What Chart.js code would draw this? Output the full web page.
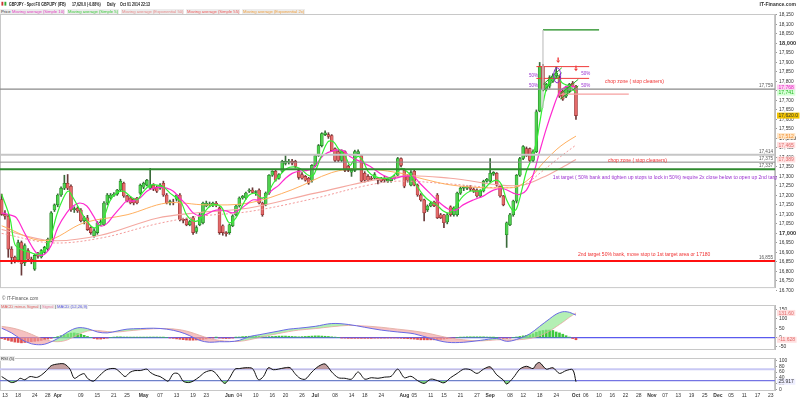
<!DOCTYPE html>
<html><head><meta charset="utf-8">
<script src="https://cdn.jsdelivr.net/npm/chart.js@4.4.1/dist/chart.umd.min.js"></script>
<style>
body{margin:0;background:#fff;width:800px;height:400px;overflow:hidden;position:relative;font-family:Arial,"Liberation Sans",sans-serif;color:#333}
canvas{position:absolute;left:0;z-index:1}
.t{position:absolute;white-space:nowrap;font-size:4.2px;line-height:5px;z-index:3}
.h{font-weight:bold;font-size:4.6px;top:2px;color:#222;transform:scaleX(0.78);transform-origin:0 0}
.lg{background:#ececec;padding:0 1px;top:9px}
</style></head><body>
<div class="t" style="left:1px;top:1px;font-size:5px"><span style="color:#c33">&#9646;</span><span style="color:#3a3">&#9646;</span></div>
<div class="t h" style="left:9px">GBPJPY - Spot FX GBP/JPY (IFB)</div>
<div class="t h" style="left:72px">17,620.0 (-0.88%)</div>
<div class="t h" style="left:107px">Daily</div>
<div class="t h" style="left:120px">Oct 01 2014 22:13</div>
<div class="t" style="right:4px;top:2px;font-size:5px;font-weight:bold">IT-Finance.com</div>
<div class="t lg" style="left:0">Price</div>
<div class="t lg" style="left:11px;color:#e23cc0">Moving average (Simple 10)</div>
<div class="t lg" style="left:67px;color:#3ccc3c">Moving average (Simple 5)</div>
<div class="t lg" style="left:121px;color:#e88a8a">Moving average (Exponential 50)</div>
<div class="t lg" style="left:186px;color:#f05a5a">Moving average (Simple 55)</div>
<div class="t lg" style="left:242px;color:#f0a040">Moving average (Exponential 2x)</div>
<div class="t" style="left:2px;top:296px;color:#555;font-size:4.6px">&copy; IT-Finance.com</div>
<div class="t" style="left:0;top:304px"><span style="background:#ececec;padding:0 1px"><span style="color:#e05a5a">MACD minus Signal</span> | <span style="color:#e87a9a">Signal</span> | <span style="color:#5a5ae0">MACD (12,26,9)</span></span></div>
<div class="t" style="left:0;top:356px"><span style="background:#ececec;padding:0 1px">RSI (5)</span></div>
<canvas id="cMain" width="800" height="292" style="top:0"></canvas>
<canvas id="cMacd" width="800" height="54" style="top:300px"></canvas>
<canvas id="cRsi" width="800" height="47" style="top:353px"></canvas>
<script>
// daily candles, one per trading day (Sun-Fri) from 2014-03-12 to 2014-10-01
const open = [17178,17100,17090,16917,16874,16860,16952,16845,16910,16864,
16812,16884,16876,16900,16917,16962,17123,17150,17202,17238,
17264,17248,17125,17133,17123,17066,17082,17030,16988,17004,
17056,17045,17160,17186,17200,17207,17228,17264,17197,17186,
17180,17186,17212,17243,17254,17238,17254,17243,17238,17264,
17202,17162,17165,17180,17202,17072,17072,17045,17082,17010,
17045,17056,17144,17150,17148,17160,17134,17040,17004,17004,
17040,17098,17144,17186,17186,17222,17228,17215,17228,17160,
17150,17212,17306,17327,17290,17327,17368,17375,17380,17379,
17330,17310,17300,17290,17280,17358,17410,17462,17520,17520,
17515,17446,17431,17384,17431,17353,17322,17332,17420,17410,
17316,17300,17290,17290,17290,17290,17285,17275,17278,17290,
17306,17394,17332,17300,17254,17327,17254,17202,17176,17124,
17144,17165,17202,17098,17098,17060,17140,17098,17098,17212,
17238,17238,17243,17233,17228,17197,17223,17275,17275,17312,
17316,17248,17197,16993,17045,17098,17170,17306,17394,17446,
17446,17384,17430,17644,17878,17760,17775,17800,17830,17820,
17748,17722,17748,17790,17775];
const high = [17207,17120,17100,16930,16880,16965,16960,16945,16920,16875,
16890,16900,16915,16932,16975,17115,17155,17208,17245,17306,
17310,17255,17140,17140,17130,17090,17095,17035,17025,17062,
17075,17168,17210,17210,17215,17232,17285,17270,17200,17192,
17185,17190,17260,17270,17285,17342,17262,17250,17262,17275,
17210,17175,17180,17205,17210,17080,17080,17068,17090,17040,
17105,17165,17170,17165,17165,17168,17140,17045,17010,17050,
17098,17150,17192,17200,17218,17235,17240,17225,17235,17165,
17218,17310,17330,17335,17315,17385,17410,17390,17390,17385,
17340,17320,17305,17295,17362,17415,17468,17530,17540,17530,
17520,17450,17440,17440,17435,17360,17340,17438,17440,17415,
17325,17310,17300,17320,17295,17295,17300,17290,17295,17305,
17400,17398,17340,17310,17330,17335,17260,17210,17180,17150,
17165,17170,17210,17105,17100,17105,17145,17140,17218,17245,
17250,17250,17252,17240,17235,17230,17280,17290,17394,17325,
17320,17252,17200,17060,17105,17175,17310,17400,17462,17455,
17450,17440,17650,17900,17890,17790,17830,17840,17875,17830,
17755,17775,17790,17800,17780];
const low = [17095,17075,16874,16840,16845,16850,16780,16830,16855,16840,
16805,16870,16870,16895,16910,16955,17115,17140,17195,17230,
17230,17115,17110,17110,17060,17050,17015,16995,16980,16995,
17040,17040,17150,17180,17195,17200,17220,17190,17165,17155,
17150,17155,17205,17235,17250,17230,17225,17215,17232,17195,
17155,17150,17150,17170,17065,17055,17040,17040,16995,17000,
17040,17050,17140,17140,17140,17140,16995,16990,16985,16995,
17035,17092,17138,17180,17180,17215,17210,17200,17155,17090,
17145,17205,17300,17275,17285,17320,17360,17365,17360,17345,
17285,17285,17275,17258,17270,17350,17405,17455,17515,17500,
17430,17378,17378,17378,17325,17325,17300,17325,17415,17270,
17270,17275,17280,17285,17260,17270,17270,17268,17270,17285,
17300,17350,17240,17270,17250,17250,17195,17170,17066,17115,
17140,17140,17078,17078,17030,17050,17090,17090,17090,17205,
17225,17230,17225,17215,17190,17190,17218,17270,17270,17305,
17248,17190,17145,16926,17040,17090,17160,17300,17388,17405,
17378,17378,17425,17640,17750,17750,17765,17795,17815,17715,
17700,17715,17740,17770,17600];
const close = [17100,17090,16917,16874,16860,16952,16840,16936,16864,16850,
16884,16880,16910,16926,16968,17108,17150,17202,17238,17264,
17238,17123,17130,17118,17066,17082,17020,17004,17014,17056,
17060,17160,17202,17202,17207,17228,17275,17197,17170,17160,
17160,17160,17254,17264,17280,17254,17233,17222,17254,17202,
17160,17165,17160,17202,17072,17068,17045,17062,17004,17030,
17098,17160,17160,17155,17160,17148,17004,17004,16998,17045,
17092,17144,17186,17195,17212,17228,17215,17220,17160,17098,
17212,17306,17327,17280,17310,17379,17379,17380,17370,17353,
17295,17290,17280,17264,17358,17410,17462,17525,17530,17510,
17436,17384,17384,17431,17332,17332,17332,17431,17431,17275,
17280,17280,17285,17310,17280,17275,17280,17285,17290,17300,
17394,17358,17248,17280,17320,17254,17202,17176,17108,17144,
17160,17145,17082,17082,17056,17098,17098,17134,17212,17238,
17240,17243,17233,17222,17197,17223,17275,17285,17316,17321,
17254,17197,17150,17056,17098,17170,17306,17394,17457,17410,
17384,17431,17640,17878,17760,17785,17820,17830,17845,17722,
17707,17770,17785,17775,17620];

// moving averages: [day index, value]
const sma5 = [[0,17206],[2.5,17082],[4,16942],[6,16915],[8.6,16900],[11,16890],[13,16915],[14.6,16962],[16.7,17098],[18.7,17186],[20.2,17222],[21.7,17186],[23.7,17124],[25.8,17066],[27.8,17030],[29.8,17045],[31.3,17098],[32.8,17170],[34.8,17212],[36.9,17222],[38.9,17196],[40.9,17176],[42.9,17220],[45,17254],[47,17254],[49,17245],[51,17212],[53,17186],[54.5,17160],[56,17098],[58,17066],[60,17072],[62,17124],[64,17150],[66.5,17140],[68,17082],[69,17056],[71,17082],[73,17150],[75,17202],[77,17210],[78.8,17186],[80.3,17200],[82.3,17264],[84.3,17306],[86.4,17342],[88.4,17350],[90.4,17342],[92.9,17306],[94.4,17306],[95.4,17342],[96.9,17410],[98.9,17483],[100.5,17483],[102,17446],[104,17410],[105.5,17358],[106.5,17380],[108,17405],[109.5,17380],[111,17327],[113,17300],[115.6,17290],[118,17295],[119.6,17320],[121.2,17342],[122.7,17327],[124.2,17300],[125.7,17254],[127.7,17202],[129.7,17170],[131.8,17150],[133.8,17118],[135.8,17108],[137.8,17150],[139.8,17196],[141.9,17222],[143.9,17222],[145.9,17230],[147.9,17264],[150,17280],[151.5,17254],[153,17176],[155,17118],[156,17130],[157.5,17222],[159,17327],[160.6,17394],[162,17480],[163,17580],[164,17680],[165,17760],[166,17800],[167,17815],[168,17820],[169,17810],[170,17790],[172,17775],[174,17741]];
const sma10 = [[0,17108],[3,17095],[4.5,17082],[6.6,17014],[9,16936],[11,16890],[13,16890],[15,16936],[17,17030],[19.7,17108],[21.7,17144],[23.7,17160],[25.8,17144],[27.8,17092],[29.8,17040],[31.8,17050],[33.8,17092],[35.9,17134],[37.9,17170],[39.9,17170],[41.9,17186],[44,17222],[46,17238],[48,17242],[50,17238],[52,17222],[54,17186],[56,17150],[58,17108],[60,17092],[62,17100],[64,17118],[66,17124],[68,17118],[70,17108],[72,17124],[74,17150],[76,17176],[78,17176],[80,17196],[82,17228],[84,17254],[86,17290],[88,17316],[90,17327],[92,17330],[94.4,17342],[97.4,17410],[100.5,17436],[103.5,17436],[105.5,17405],[108.5,17379],[111.6,17353],[115.6,17306],[118.6,17290],[121.7,17300],[124.7,17300],[126.7,17264],[129.7,17212],[132.8,17160],[135.8,17124],[137.8,17124],[139.8,17150],[142.9,17176],[145.9,17196],[149,17228],[152,17235],[155,17212],[157,17205],[159,17228],[161,17306],[163,17431],[165,17550],[167,17655],[169,17743],[170.7,17770],[172.7,17775],[174,17768]];
const ema2x = [[0,17040],[13,16962],[25,17056],[38,17098],[50,17160],[62,17150],[75,17160],[88,17230],[100,17320],[108,17340],[120,17320],[128,17285],[136,17255],[146,17240],[152,17240],[156,17245],[160,17290],[164,17370],[168,17440],[171,17480],[174,17512]];
const sma55 = [[0,17000],[15,16950],[30,16975],[47,17050],[60,17090],[75,17115],[95,17185],[110,17250],[120,17275],[136,17260],[151,17240],[158,17255],[164,17330],[169,17400],[174,17465]];
const ema50 = [[0,17020],[15,16962],[30,16990],[47,17080],[60,17110],[75,17134],[95,17212],[120,17300],[136,17290],[151,17254],[158,17255],[164,17295],[169,17340],[174,17389]];

// MACD (12,26,9)
const macdLine = [[0,50],[3,25],[6,-10],[9,-33],[12,-38],[14,-30],[17,-5],[20,30],[23,52],[26,48],[29,30],[32,25],[35,35],[38,45],[42,48],[46,50],[50,45],[54,30],[57,10],[60,-15],[63,-25],[66,-22],[69,-22],[72,-15],[75,5],[78,15],[81,25],[84,35],[87,45],[90,50],[95,60],[100,75],[105,70],[110,55],[115,40],[120,30],[125,20],[130,-5],[135,-25],[140,-25],[145,-15],[150,-5],[153,-20],[156,-10],[160,20],[163,60],[166,100],[168,125],[170,138],[172,135],[174,120]];
const signalLine = [[0,60],[3,52],[6,38],[9,18],[12,-5],[14,-15],[17,-22],[20,-12],[23,15],[26,35],[29,38],[32,32],[35,30],[38,35],[42,42],[46,47],[50,48],[54,42],[57,30],[60,12],[63,-5],[66,-15],[69,-20],[72,-20],[75,-12],[78,0],[81,12],[84,22],[87,32],[90,40],[95,48],[100,58],[105,65],[110,62],[115,55],[120,45],[125,35],[130,20],[135,0],[140,-12],[145,-18],[150,-12],[153,-12],[156,-12],[160,-5],[163,10],[166,35],[168,58],[170,82],[172,108],[174,131.6]];
const macdHist = [-5,-10,-15,-20,-24,-26,-28,-26,-24,-22,
-20,-18,-15,-12,-8,-4,0,5,10,15,
20,24,25,22,18,12,6,0,-5,-8,
-8,-6,-3,0,2,4,4,3,3,2,
2,2,2,2,2,3,3,3,2,1,
0,-2,-4,-7,-9,-11,-13,-14,-14,-13,
-12,-10,-7,-4,-1,1,-2,-4,-5,-4,
-2,1,3,5,6,7,7,7,6,5,
4,5,6,7,8,8,8,7,6,5,
4,5,6,7,8,9,9,8,7,6,
4,2,0,-2,-3,-4,-4,-4,-4,-4,
-4,-4,-4,-3,-3,-3,-3,-2,-2,-2,
-3,-4,-5,-6,-7,-8,-10,-12,-12,-12,
-12,-12,-11,-10,-8,-6,-4,-2,0,2,
3,4,4,4,4,4,4,3,2,1,
0,-2,-4,-4,-2,0,3,6,9,12,
15,20,28,35,38,40,40,38,30,25,
18,10,2,-5,-11.628];

// RSI (5)
const rsi5 = [[0,44],[1.5,33],[3,23],[4.5,28],[5.6,38],[7,33],[8.6,44],[10.6,41],[12,49],[13.6,65],[15,82],[17,88],[19,88],[20.7,70],[22,38],[23.7,49],[25,54],[26,38],[27.8,28],[29.8,49],[31.8,68],[34.3,72],[35.9,59],[37.4,44],[38.9,59],[40.4,65],[42,65],[44,70],[45,59],[46.5,49],[48,44],[49.5,33],[50.5,28],[52,54],[53.5,54],[55,28],[56.6,23],[58,28],[60,44],[61.6,59],[63.6,65],[65,54],[66.7,28],[67.7,20],[69,38],[70.7,70],[72,72],[74,75],[76,72],[77.8,33],[79.3,44],[80.8,75],[82.3,68],[83.8,70],[85.9,75],[87.4,75],[88.9,54],[90.4,38],[92,35],[94,60],[96,80],[98,88],[100,60],[102,40],[104,38],[106,35],[108,60],[110,35],[112,40],[114,38],[116,42],[118,45],[120,70],[122,40],[124,45],[126,30],[128,20],[130,35],[132,30],[134,22],[136,40],[138,55],[140,70],[142,68],[144,55],[146,70],[148,78],[150,50],[152,32],[153,18],[155,40],[157,70],[159,80],[161,72],[162,88],[163,93],[165,70],[167,75],[169,55],[171,65],[173,68],[174,25.917]];

// x axis labels
const tickDates = ['2014-03-13','2014-03-18','2014-03-24','2014-03-28','2014-04-01','2014-04-09','2014-04-15','2014-04-21','2014-04-25','2014-05-01','2014-05-07','2014-05-13','2014-05-19','2014-05-23','2014-06-01','2014-06-04','2014-06-10','2014-06-16','2014-06-20','2014-06-26','2014-07-01','2014-07-08','2014-07-14','2014-07-18','2014-07-24','2014-08-01','2014-08-05','2014-08-11','2014-08-15','2014-08-21','2014-08-27','2014-09-01','2014-09-08','2014-09-12','2014-09-18','2014-09-24','2014-10-01','2014-10-06','2014-10-10','2014-10-16','2014-10-22','2014-10-28','2014-11-03','2014-11-07','2014-11-13','2014-11-19','2014-11-25','2014-12-01','2014-12-05','2014-12-11','2014-12-17','2014-12-23'];
const tickText = ['13','18','24','28','Apr','09','15','21','25','May','07','13','19','23','Jun','04','10','16','20','26','Jul','08','14','18','24','Aug','05','11','15','21','27','Sep','08','12','18','24','Oct','06','10','16','22','28','Nov','07','13','19','25','Dec','05','11','17','23'];
const priceTickMin = 16700, priceTickMax = 18150, priceTickStep = 50;
const macdTicks = [-50,0,50,100,150];
const rsiTicks = [0,20,40,60,80,100];

// drawn levels and notes
const levelPrices = [17759,17414,17375,17337,16855];
const levelText = ['17,759','17,414','17,375','17,337','16,855'];
const segDay1 = [164,162,162,169,164,164.1,164.1,169.2,169.2];
const segDay2 = [181,178,178,190,164,169.7,169.7,174.7,174.7];
const segP1 = [18071,17878,17816,17733,17660,17750,17785,17707,17733];
const segP2 = [18071,17878,17816,17733,18071,17846,17872,17776,17811];
const noteText = ['chop zone ( stop cleaners)','chop zone ( stop cleaners)','1st target ( 50% bank and tighten up stops to lock in 50%) require 2x close below to open up 2nd target','2nd target 50% bank, move stop to 1st target area or 17180','50%','50%','50%','50%'];
const noteDay = [182.8,183.7,167,174.6,159.8,159.8,175.6,175.6];
const notePrice = [17800,17384,17295,16888,17830,17775,17840,17775];
const tagValues = [17768,17741,17620.0,17512,17465,17389];
const tagText = ['17,768','17,741','17,620.0','17,512','17,465','17,389'];

const X_MIN = -0.5, X_MAX = 234.3;
const firstDay = Date.UTC(2014,2,12), lastBarDay = Date.UTC(2014,9,1);
const daySlot = {};
for(let t=firstDay, n=0; t<=Date.UTC(2014,11,31); t+=86400000){
  const dow = new Date(t).getUTCDay();
  const ok = t<=lastBarDay ? dow!==6 : (dow!==0 && dow!==6);
  if(ok){ daySlot[new Date(t).toISOString().slice(0,10)] = n++; }
}
const tickSlots = tickDates.map(d=>daySlot[d]);

const UP='#4fd04f', UPB='#1f7a1f', DN='#e46a6a', DNB='#8a2a2a';
const bull = close.map((c,i)=>c>=open[i]);
const pts = a => a.map(p=>({x:p[0], y:p[1]}));

function rightAxis(extra){
  return Object.assign({position:'right', afterFit(s){ s.width = 25; },
    grid:{drawOnChartArea:false, drawTicks:true, tickLength:2, color:'#999'},
    border:{color:'#bbb'},
    ticks:{padding:2, color:'#333', autoSkip:false, font:{size:5, family:'Arial'}}}, extra);
}
function xAxis(show){
  return {type:'linear', min:X_MIN, max:X_MAX, display:show, offset:false,
    grid:{display:false, drawTicks:false}, border:{display:false},
    afterBuildTicks(s){ s.ticks = tickSlots.map(v=>({value:v})); },
    afterFit(s){ s.paddingLeft = 0; s.paddingRight = 0; if(show) s.height = 10; },
    ticks:{autoSkip:false, maxRotation:0, padding:3, color:'#333',
      callback:(v)=>{ const k = tickSlots.indexOf(v); return k<0 ? '' : tickText[k]; },
      font:(c)=>({size:5, family:'Arial', weight:(c.tick && /[A-Za-z]/.test(c.tick.label)) ? 'bold':'normal'})}};
}

const frame = {id:'frame', beforeDraw(chart){
  const {ctx, chartArea:a} = chart;
  ctx.save(); ctx.fillStyle='#fff'; ctx.fillRect(0,0,chart.width,chart.height);
  ctx.strokeStyle='#c8c8c8'; ctx.lineWidth=1; ctx.strokeRect(a.left+0.5,a.top+0.5,a.right-a.left-1,a.bottom-a.top); ctx.restore();
}};

function drawTag(ctx, a, yPix, txt, bg, fg){
  ctx.font='5px Arial'; const w = ctx.measureText(txt).width+3;
  ctx.fillStyle=bg; ctx.fillRect(a.right+2, yPix-3, w, 6);
  ctx.fillStyle=fg; ctx.textAlign='left'; ctx.textBaseline='middle'; ctx.fillText(txt, a.right+3.5, yPix+0.3);
}

const levelStyle = [{c:'#8a8a8a',w:1.2},{c:'#c6c6c6',w:2},{c:'#8a8a8a',w:1},{c:'#2f8a2f',w:2},{c:'#ff1010',w:2}];
const segStyle = [{c:'#1a8a1a',w:1.3},{c:'#f03a3a',w:1},{c:'#f03a3a',w:1},{c:'#f6a0a0',w:1.3},{c:'#c8c8c8',w:1.3},{c:'#22aa22',w:1},{c:'#22aa22',w:1},{c:'#22aa22',w:1},{c:'#22aa22',w:1}];
const noteStyle = [{c:'#f03030',f:'5px Arial'},{c:'#f03030',f:'5px Arial'},{c:'#9a30d0',f:'5px Arial'},{c:'#f03030',f:'5px Arial'},{c:'#9a30d0',f:'4.5px Arial'},{c:'#9a30d0',f:'4.5px Arial'},{c:'#9a30d0',f:'4.5px Arial'},{c:'#9a30d0',f:'4.5px Arial'}];
const tagStyle = [{bg:'#ffd0f2',fg:'#e020c0'},{bg:'#d6ffd6',fg:'#22b822'},{bg:'#f2c400',fg:'#333'},{bg:'#ffe6c8',fg:'#f09030'},{bg:'#ffe0e0',fg:'#e06a6a'},{bg:'#ffe0e0',fg:'#e06a6a'}];

const notes = {id:'notes', afterDatasetsDraw(chart){
  const {ctx, chartArea:a, scales:{x, y}} = chart;
  ctx.save();
  ctx.beginPath(); ctx.rect(a.left,a.top,a.right-a.left+2,a.bottom-a.top); ctx.clip();
  levelPrices.forEach((p,i)=>{
    const py = y.getPixelForValue(p);
    ctx.strokeStyle=levelStyle[i].c; ctx.lineWidth=levelStyle[i].w;
    ctx.beginPath(); ctx.moveTo(a.left,py); ctx.lineTo(a.right,py); ctx.stroke();
    ctx.fillStyle='#555'; ctx.font='4.6px Arial'; ctx.textAlign='right'; ctx.textBaseline='bottom';
    ctx.fillText(levelText[i], a.right-2, py-1);
  });
  segDay1.forEach((d,i)=>{
    ctx.strokeStyle=segStyle[i].c; ctx.lineWidth=segStyle[i].w;
    ctx.beginPath(); ctx.moveTo(x.getPixelForValue(d), y.getPixelForValue(segP1[i]));
    ctx.lineTo(x.getPixelForValue(segDay2[i]), y.getPixelForValue(segP2[i])); ctx.stroke();
  });
  // purple ring and red arrows near the top
  ctx.strokeStyle='#8a2ad0'; ctx.lineWidth=1;
  ctx.beginPath(); ctx.ellipse(x.getPixelForValue(168.3), y.getPixelForValue(17832), 3.5, 7.5, 0, 0, Math.PI*2); ctx.stroke();
  [[168.6,17905],[174,17862]].forEach(([d,p])=>{
    const px=x.getPixelForValue(d), py=y.getPixelForValue(p);
    ctx.fillStyle='#f04040'; ctx.fillRect(px-0.7,py-4,1.4,3);
    ctx.beginPath(); ctx.moveTo(px-2,py-1); ctx.lineTo(px+2,py-1); ctx.lineTo(px,py+1.5); ctx.fill();
  });
  noteText.forEach((t,i)=>{
    ctx.fillStyle=noteStyle[i].c; ctx.font=noteStyle[i].f; ctx.textAlign='left'; ctx.textBaseline='middle';
    ctx.fillText(t, x.getPixelForValue(noteDay[i]), y.getPixelForValue(notePrice[i]));
  });
  ctx.restore();
  ctx.save();
  tagValues.forEach((v,i)=>drawTag(ctx, a, y.getPixelForValue(v), tagText[i], tagStyle[i].bg, tagStyle[i].fg));
  ctx.restore();
}};

const base = {responsive:false, animation:false, devicePixelRatio:1,
  layout:{autoPadding:false}, plugins:{legend:{display:false}, tooltip:{enabled:false}}};

const lineDs = (data, color, w, dash, order) => ({type:'line', data:pts(data), borderColor:color, borderWidth:w,
  borderDash:dash||[], pointRadius:0, tension:0.35, fill:false, order:order||1});

new Chart(document.getElementById('cMain'), {
  type:'bar',
  data:{datasets:[
    {data:open.map((o,i)=>({x:i, y:[low[i],high[i]]})), backgroundColor:bull.map(b=>b?'#3a6a3a':'#6a3a3a'),
     barThickness:1, grouped:false, order:20},
    {data:open.map((o,i)=>({x:i, y:[o,close[i]]})), backgroundColor:bull.map(b=>b?UP:DN),
     borderColor:bull.map(b=>b?UPB:DNB), borderWidth:0.6, borderSkipped:false, barThickness:3, minBarLength:1, grouped:false, order:19},
    lineDs(ema50,'#f4a8a0',1.1,null,5),
    lineDs(sma55,'#f49a9a',1,[2,2],4),
    lineDs(ema2x,'#ffb060',1,null,3),
    lineDs(sma10,'#ff2ad0',1.2,null,2),
    lineDs(sma5,'#33f033',1.2,null,1)
  ]},
  options:Object.assign({}, base, {layout:{autoPadding:false, padding:{top:14,bottom:2,left:0,right:0}},
    scales:{x:xAxis(false),
      y:rightAxis({min:16717, max:18155,
        afterBuildTicks(s){ const t=[]; for(let v=priceTickMin; v<=priceTickMax; v+=priceTickStep) t.push({value:v}); s.ticks=t; },
        ticks:{padding:2, color:'#333', autoSkip:false, callback:v=>v.toLocaleString('en-US'),
          font:c=>({size:(c.tick && c.tick.value%500===0)?5.6:4.8, family:'Arial', weight:(c.tick && c.tick.value%500===0)?'bold':'normal'})}})}}),
  plugins:[frame, notes]
});

const hLines = (vals, styles) => ({id:'hl', beforeDatasetsDraw(chart){
  const {ctx, chartArea:a, scales:{y}} = chart; ctx.save();
  vals.forEach((v,i)=>{ const py=y.getPixelForValue(v); ctx.strokeStyle=styles[i].c; ctx.lineWidth=styles[i].w;
    ctx.beginPath(); ctx.moveTo(a.left,py); ctx.lineTo(a.right,py); ctx.stroke(); });
  ctx.restore();
}});
const tagPlugin = (vals, texts, styles) => ({id:'tags', afterDraw(chart){
  const {ctx, chartArea:a, scales:{y}} = chart; ctx.save();
  vals.forEach((v,i)=>drawTag(ctx, a, y.getPixelForValue(v), texts[i], styles[i].bg, styles[i].fg));
  ctx.restore();
}});

new Chart(document.getElementById('cMacd'), {
  type:'bar',
  data:{datasets:[
    {data:macdHist.map((v,i)=>({x:i, y:v})), backgroundColor:macdHist.map(v=>v>=0?'#3cc83c':'#e05050'),
     barThickness:2, grouped:false, order:10},
    {type:'line', data:pts(macdLine), borderColor:'#6a6ae6', borderWidth:1, pointRadius:0, tension:0.35,
     fill:{target:'+1', above:'rgba(140,230,140,0.65)', below:'rgba(240,160,160,0.65)'}, order:2},
    {type:'line', data:pts(signalLine), borderColor:'#f0a0a0', borderWidth:0.8, pointRadius:0, tension:0.35, fill:false, order:3}
  ]},
  options:Object.assign({}, base, {layout:{autoPadding:false, padding:{top:3,bottom:1,left:0,right:0}},
    scales:{x:xAxis(false), y:rightAxis({min:-61, max:174, afterBuildTicks(s){ s.ticks = macdTicks.map(v=>({value:v})); }})}}),
  plugins:[frame, hLines([0],[{c:'#5a5aee',w:1.3}]),
    tagPlugin([131.6,-11.628],['131.60','-11.628'],[{bg:'#ffe0e0',fg:'#e06a6a'},{bg:'#ffe0e0',fg:'#e06a6a'}])]
});

new Chart(document.getElementById('cRsi'), {
  type:'line',
  data:{datasets:[
    {data:pts(rsi5), borderColor:'#111', borderWidth:1, pointRadius:0, tension:0.3,
     fill:{value:70, above:'rgba(170,120,120,0.7)', below:'rgba(0,0,0,0)'}},
    {data:pts(rsi5), borderColor:'rgba(0,0,0,0)', borderWidth:0, pointRadius:0, tension:0.3,
     fill:{value:30, above:'rgba(0,0,0,0)', below:'rgba(80,200,80,0.7)'}}
  ]},
  options:Object.assign({}, base, {layout:{autoPadding:false, padding:{top:1,bottom:0,left:0,right:0}},
    scales:{x:xAxis(true), y:rightAxis({min:-3, max:109, afterBuildTicks(s){ s.ticks = rsiTicks.map(v=>({value:v})); }})}}),
  plugins:[frame, hLines([70,30],[{c:'#c8c8f4',w:2},{c:'#7474e4',w:1.2}]),
    tagPlugin([25.917],['25.917'],[{bg:'#eeeeff',fg:'#333'}])]
});
</script>
</body></html>
